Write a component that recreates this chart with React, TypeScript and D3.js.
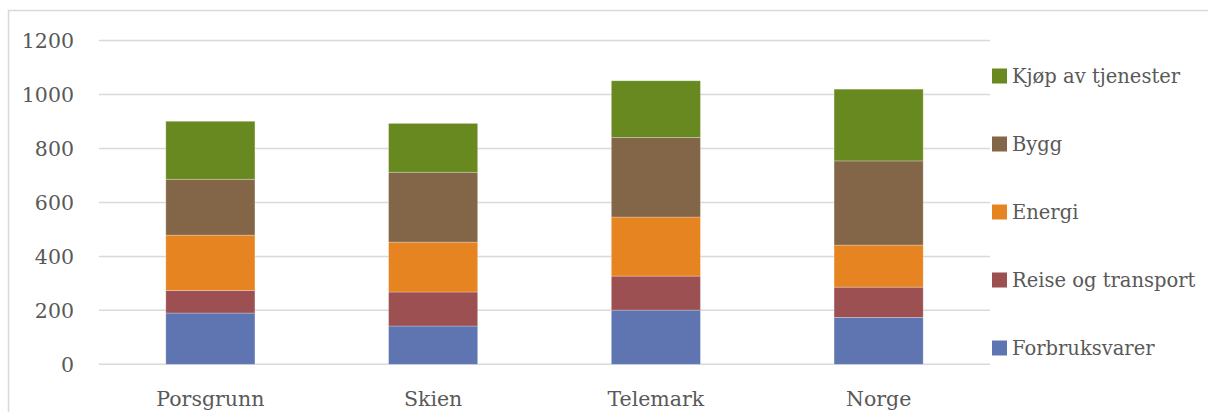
import * as d3 from "d3";

const categories = ["Porsgrunn", "Skien", "Telemark", "Norge"];
const seriesNames = ["Forbruksvarer", "Reise og transport", "Energi", "Bygg", "Kjøp av tjenester"];
const forbruksvarer = [190, 142, 201, 174];
const reise = [84, 126, 126, 112];
const energi = [205, 185, 219, 156];
const bygg = [207, 259, 295, 312];
const tjenester = [215, 181, 210, 266];
const yTicks = [0, 200, 400, 600, 800, 1000, 1200];

const COLORS = ["#5f75b2", "#9c5052", "#e68421", "#836647", "#67891f"];
const W = 1208;
const H = 412;
const PLOT = { left: 99, right: 990, top: 40.6, bottom: 364.3 };
const FONT = "DejaVu Serif, serif";
const FS = 20.5;
const LEGEND_FS = 19.5;
const TEXT = "#595959";

export default function App() {
  const seriesValues = [forbruksvarer, reise, energi, bygg, tjenester];
  const rows = categories.map((c, i) => {
    const row: Record<string, number | string> = { category: c };
    seriesNames.forEach((s, j) => (row[s] = seriesValues[j][i]));
    return row;
  });
  const stacked = d3.stack<Record<string, number | string>>().keys(seriesNames)(rows as any);

  const x = d3
    .scaleBand<string>()
    .domain(categories)
    .range([PLOT.left, PLOT.right])
    .paddingInner(0.6)
    .paddingOuter(0.3);
  const y = d3.scaleLinear().domain([0, 1200]).range([PLOT.bottom, PLOT.top]);

  const legendOrder = [...seriesNames].reverse();
  const legendY = d3.scalePoint<string>().domain(legendOrder).range([76, 348]);

  return (
    <svg
      width={W}
      height={H}
      style={{ position: "absolute", left: 0, top: 0, background: "#fff", fontFamily: FONT }}
    >
      <rect x={8.5} y={10.5} width={W + 10} height={H + 10} fill="none" stroke="#d9d9d9" strokeWidth={1.5} />
      <g>
        {yTicks.map((t) => (
          <g key={t}>
            <line x1={PLOT.left} x2={PLOT.right} y1={y(t)} y2={y(t)} stroke="#d9d9d9" strokeWidth={1.5} />
            <text x={74} y={y(t)} dy="0.36em" textAnchor="end" fontSize={FS} fill={TEXT}>
              {t}
            </text>
          </g>
        ))}
      </g>
      <g>
        {stacked.map((layer, j) => (
          <g key={layer.key} fill={COLORS[j]}>
            {layer.map((d, i) => (
              <rect
                key={categories[i]}
                x={x(categories[i])}
                width={x.bandwidth()}
                y={y(d[1])}
                height={y(d[0]) - y(d[1])}
                stroke="#ffffff"
                strokeOpacity={0.35}
                strokeWidth={0.75}
              />
            ))}
          </g>
        ))}
      </g>
      <g>
        {categories.map((c) => (
          <text
            key={c}
            x={(x(c) ?? 0) + x.bandwidth() / 2}
            y={406}
            textAnchor="middle"
            fontSize={FS}
            fill={TEXT}
          >
            {c}
          </text>
        ))}
      </g>
      <g>
        {legendOrder.map((s) => {
          const cy = legendY(s) ?? 0;
          return (
            <g key={s}>
              <rect x={992} y={cy - 7.5} width={15} height={15} fill={COLORS[seriesNames.indexOf(s)]} />
              <text x={1012} y={cy} dy="0.36em" fontSize={LEGEND_FS} fill={TEXT}>
                {s}
              </text>
            </g>
          );
        })}
      </g>
    </svg>
  );
}
